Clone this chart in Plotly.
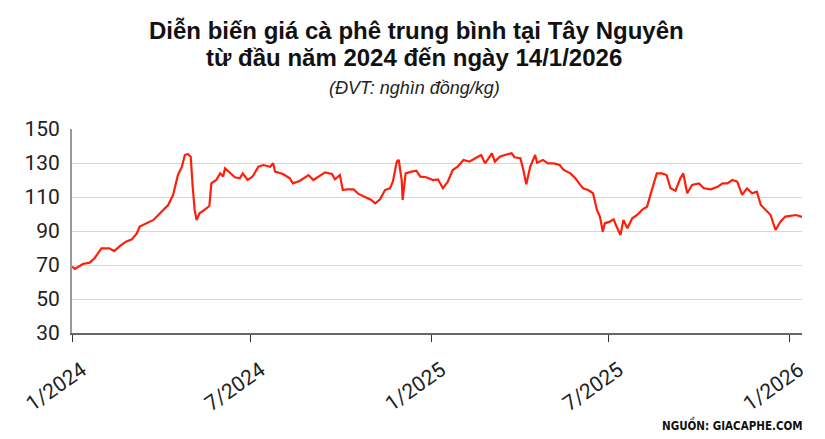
import plotly.graph_objects as go

# gia ca phe trung binh Tay Nguyen (nghin dong/kg), doc tu hinh
dates_2024 = [
    "2024-01-01", "2024-01-04", "2024-01-12", "2024-01-19", "2024-01-24", "2024-01-31",
    "2024-02-08", "2024-02-13", "2024-02-19", "2024-02-25", "2024-03-02", "2024-03-07",
    "2024-03-10", "2024-03-17", "2024-03-24", "2024-03-29", "2024-04-03", "2024-04-08",
    "2024-04-13", "2024-04-18", "2024-04-22", "2024-04-25", "2024-04-28", "2024-05-01",
    "2024-05-03", "2024-05-05", "2024-05-07", "2024-05-10", "2024-05-15", "2024-05-20",
    "2024-05-22", "2024-05-27", "2024-05-31", "2024-06-03", "2024-06-05", "2024-06-10",
    "2024-06-15", "2024-06-20", "2024-06-23", "2024-06-28", "2024-07-03", "2024-07-09",
    "2024-07-14", "2024-07-21", "2024-07-24", "2024-07-26", "2024-08-03", "2024-08-10",
    "2024-08-13", "2024-08-20", "2024-08-29", "2024-09-03", "2024-09-08", "2024-09-15",
    "2024-09-22", "2024-09-25", "2024-09-30", "2024-10-03", "2024-10-07", "2024-10-14",
    "2024-10-19", "2024-10-26", "2024-11-01", "2024-11-05", "2024-11-10", "2024-11-15",
    "2024-11-20", "2024-11-23", "2024-11-27", "2024-11-29", "2024-12-02", "2024-12-03",
    "2024-12-06", "2024-12-12", "2024-12-17", "2024-12-21", "2024-12-27",
]
prices_2024 = [
    69.0, 67.7, 70.6, 71.4, 74.0, 79.8,
    79.8, 78.2, 81.2, 83.7, 85.1, 88.6,
    92.6, 94.5, 96.5, 99.4, 102.4, 105.3,
    111.2, 123.0, 127.8, 134.7, 135.3, 133.7,
    116.0, 102.4, 96.5, 100.4, 102.4, 104.7,
    118.0, 120.0, 123.9, 122.0, 126.9, 124.3,
    121.6, 121.0, 123.9, 120.0, 122.0, 127.8,
    128.8, 127.8, 129.8, 124.9, 123.5, 121.0,
    118.0, 119.4, 122.9, 120.0, 122.0, 124.5,
    123.5, 120.4, 122.9, 114.1, 114.5, 114.5,
    111.8, 109.8, 108.3, 106.3, 108.6, 114.1,
    115.1, 119.0, 130.8, 131.8, 120.0, 108.3,
    123.9, 124.9, 125.5, 122.0, 121.6,
]

dates_2025 = [
    "2025-01-03", "2025-01-08", "2025-01-13", "2025-01-18", "2025-01-23", "2025-01-28",
    "2025-02-03", "2025-02-09", "2025-02-15", "2025-02-21", "2025-02-25", "2025-03-04",
    "2025-03-07", "2025-03-12", "2025-03-17", "2025-03-24", "2025-03-27", "2025-04-02",
    "2025-04-05", "2025-04-08", "2025-04-12", "2025-04-17", "2025-04-19", "2025-04-25",
    "2025-04-30", "2025-05-06", "2025-05-12", "2025-05-16", "2025-05-23", "2025-05-28",
    "2025-06-02", "2025-06-05", "2025-06-10", "2025-06-15", "2025-06-19", "2025-06-22",
    "2025-06-25", "2025-06-27", "2025-07-02", "2025-07-06", "2025-07-09", "2025-07-13",
    "2025-07-16", "2025-07-20", "2025-07-25", "2025-07-30", "2025-08-04", "2025-08-09",
    "2025-08-12", "2025-08-16", "2025-08-19", "2025-08-24", "2025-08-29", "2025-09-02",
    "2025-09-07", "2025-09-12", "2025-09-15", "2025-09-19", "2025-09-24", "2025-10-01",
    "2025-10-06", "2025-10-13", "2025-10-20", "2025-10-25", "2025-10-30", "2025-11-04",
    "2025-11-09", "2025-11-14", "2025-11-19", "2025-11-24", "2025-11-29", "2025-12-03",
    "2025-12-08", "2025-12-13", "2025-12-18", "2025-12-23", "2025-12-28",
    "2026-01-04", "2026-01-08", "2026-01-13", "2026-01-14",
]
prices_2025 = [
    120.0, 120.4, 115.1, 119.0, 125.9, 127.8,
    131.8, 130.8, 132.8, 134.7, 129.8, 135.7,
    130.8, 133.7, 134.7, 135.7, 133.4, 132.8,
    125.9, 117.5, 127.8, 134.7, 130.2, 131.8,
    129.8, 129.8, 128.8, 125.9, 123.9, 121.0,
    117.1, 115.1, 114.1, 112.2, 102.4, 98.5,
    89.6, 94.5, 95.5, 96.9, 92.6, 87.7,
    96.5, 91.6, 97.5, 99.4, 102.4, 104.3,
    110.2, 118.0, 123.9, 123.9, 122.9, 115.1,
    113.7, 121.0, 123.9, 112.2, 117.1, 118.0,
    115.1, 114.5, 116.0, 118.0, 118.0, 120.0,
    119.0, 111.2, 115.1, 112.2, 113.1, 105.3,
    102.4, 99.4, 90.6, 95.5, 98.5,
    98.9, 99.4, 98.5, 98.5,
]

tick_dates = ["2024-01-01", "2024-07-01", "2025-01-01", "2025-07-01", "2026-01-01"]
tick_labels = ["1/2024", "7/2024", "1/2025", "7/2025", "1/2026"]

fig = go.Figure(go.Scatter(
    x=dates_2024 + dates_2025, y=prices_2024 + prices_2025,
    mode="lines", line=dict(color="#ff1e0a", width=2.2), showlegend=False,
))

# page has 8px body margin, so margins are trimmed a bit
fig.update_layout(
    width=825, height=439,
    margin=dict(l=64, r=31, t=121, b=114),
    paper_bgcolor="white", plot_bgcolor="white",
    font=dict(family="Roboto, Liberation Sans, Arial", color="#222"),
    annotations=[
        dict(text="<b>Diễn biến giá cà phê trung bình tại Tây Nguyên</b>",
             xref="paper", yref="paper", x=0.5, xshift=-21, y=1.0, yshift=99,
             xanchor="center", yanchor="middle", showarrow=False,
             font=dict(family="Liberation Sans, Arial", size=24, color="#111")),
        dict(text="<b>từ đầu năm 2024 đến ngày 14/1/2026</b>",
             xref="paper", yref="paper", x=0.5, xshift=-23, y=1.0, yshift=72,
             xanchor="center", yanchor="middle", showarrow=False,
             font=dict(family="Liberation Sans, Arial", size=24, color="#111")),
        dict(text="<i>(ĐVT: nghìn đồng/kg)</i>",
             xref="paper", yref="paper", x=0.5, xshift=-23, y=1.0, yshift=41,
             xanchor="center", yanchor="middle", showarrow=False,
             font=dict(family="Liberation Sans, Arial", size=18, color="#222")),
        dict(text="<b>NGUỒN: GIACAPHE.COM</b>",
             xref="paper", yref="paper", x=1.0, xshift=3, y=0, yshift=-91,
             xanchor="right", yanchor="middle", showarrow=False,
             font=dict(family="DejaVu Sans Condensed, Liberation Sans Narrow, Liberation Sans",
                       size=11.5, color="#111")),
    ],
)
fig.update_xaxes(
    range=["2024-01-01", "2026-01-14"],
    tickvals=tick_dates, ticktext=tick_labels, tickangle=-35,
    tickfont=dict(family="Roboto", size=21, color="#222"),
    showgrid=False, showline=True, linecolor="#666", linewidth=1.5,
    ticks="outside", ticklen=7, tickcolor="#333", tickwidth=1,
    ticklabelshift=10, ticklabelstandoff=8,
)
fig.update_yaxes(
    range=[30, 150], tick0=30, dtick=20,
    tickfont=dict(family="Roboto", size=21, color="#222"),
    showgrid=True, gridcolor="#d6d6d6", gridwidth=1,
    showline=True, linecolor="#999", linewidth=2, zeroline=False,
    ticks="", ticklabelstandoff=6,
)

fig.write_html("out.html")
